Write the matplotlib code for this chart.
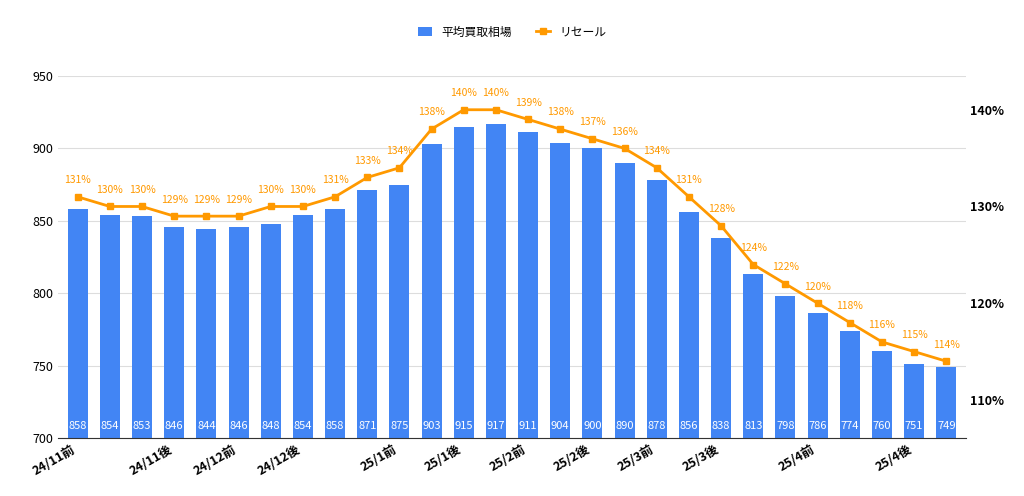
import matplotlib.pyplot as plt
import numpy as np

plt.rcParams['font.family'] = ['Noto Sans CJK JP', 'DejaVu Sans']

buy_price = [858, 854, 853, 846, 844, 846, 848, 854, 858, 871, 875, 903, 915, 917,
             911, 904, 900, 890, 878, 856, 838, 813, 798, 786, 774, 760, 751, 749]
resale_pct = [131, 130, 130, 129, 129, 129, 130, 130, 131, 133, 134, 138, 140, 140,
              139, 138, 137, 136, 134, 131, 128, 124, 122, 120, 118, 116, 115, 114]
tick_pos = [0, 3, 5, 7, 10, 12, 14, 16, 18, 20, 23, 26]
tick_labels = ['24/11前', '24/11後', '24/12前', '24/12後', '25/1前', '25/1後',
               '25/2前', '25/2後', '25/3前', '25/3後', '25/4前', '25/4後']

blue = '#4285F4'
orange = '#FF9900'

fig = plt.figure(figsize=(10.24, 4.96), dpi=100)
ax1 = fig.add_axes([0.057, 0.117, 0.886, 0.73])
x = np.arange(len(buy_price))

ax1.bar(x, [v - 700 for v in buy_price], bottom=700, width=0.62, color=blue,
        label='平均買取相場', zorder=2)
for xi, v in zip(x, buy_price):
    ax1.text(xi, 705, str(v), color='white', ha='center', va='bottom', fontsize=8, zorder=3)
ax1.set_ylim(700, 950)
ax1.set_xlim(-0.6, len(x) - 0.4)
ax1.set_yticks([700, 750, 800, 850, 900, 950])
ax1.grid(axis='y', color='#dddddd', linewidth=0.8, zorder=0)
ax1.set_xticks(tick_pos)
ax1.set_xticklabels(tick_labels, rotation=30, ha='right', fontsize=9, fontweight='bold')
ax1.tick_params(axis='both', length=0, labelsize=9)
for s in ax1.spines.values():
    s.set_visible(False)
ax1.spines['bottom'].set_visible(True)
ax1.spines['bottom'].set_color('#333333')

ax2 = ax1.twinx()
ax2.plot(x, resale_pct, color=orange, linewidth=2, marker='s', markersize=5,
         label='リセール', zorder=4)
for xi, v in zip(x, resale_pct):
    ax2.text(xi, v + 1.2, f'{v}%', color=orange, ha='center', va='bottom', fontsize=7.5)
ax2.set_ylim(106.07, 143.5)
ax2.set_yticks([110, 120, 130, 140])
ax2.set_yticklabels(['110%', '120%', '130%', '140%'], fontweight='bold')
ax2.tick_params(axis='y', length=0, labelsize=9)
for s in ax2.spines.values():
    s.set_visible(False)

h1, l1 = ax1.get_legend_handles_labels()
h2, l2 = ax2.get_legend_handles_labels()
fig.legend(h1 + h2, l1 + l2, loc='upper center', bbox_to_anchor=(0.5, 0.97), ncol=2,
           frameon=False, fontsize=8.5, handlelength=1.2)

fig.savefig('out.png', dpi=100)
